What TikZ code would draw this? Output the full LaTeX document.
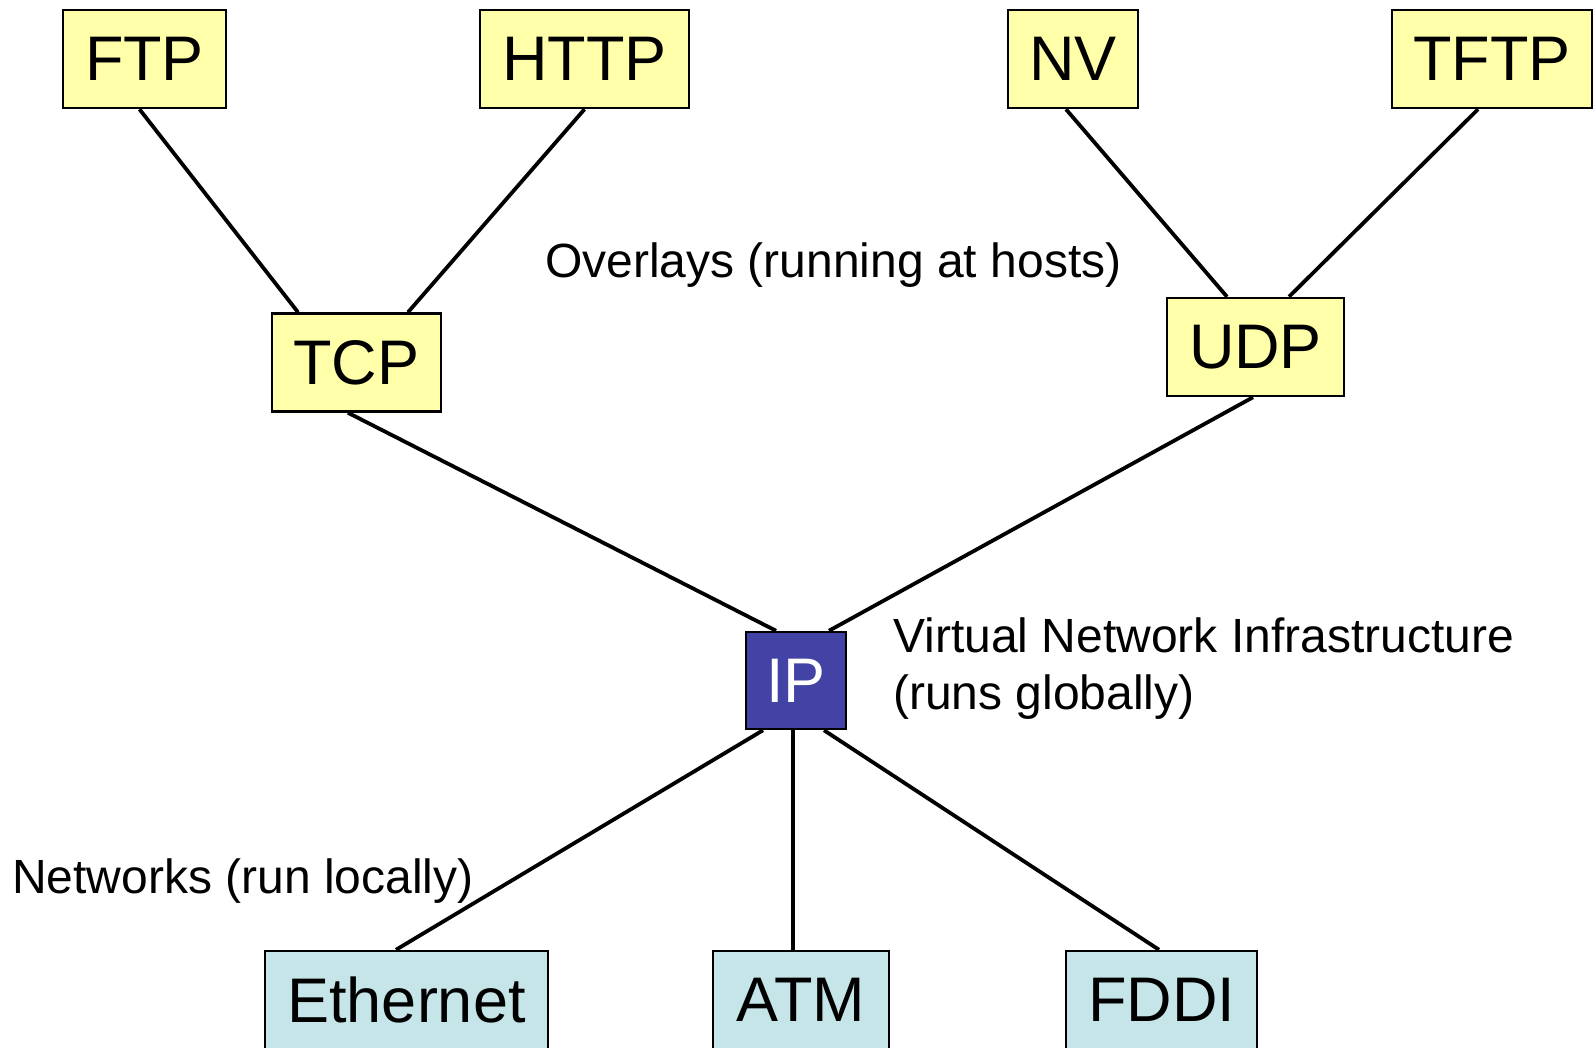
\documentclass[tikz,border=0pt]{standalone}
\usepackage{fontspec}
\setmainfont{Liberation Sans}
\definecolor{overlayfill}{RGB}{255,255,170}
\definecolor{ipfill}{RGB}{67,67,165}
\definecolor{netfill}{RGB}{198,229,232}
\tikzset{
  proto/.style={draw=black, line width=2.5pt, minimum height=98pt, inner sep=0pt,
    font=\fontsize{63}{70}\selectfont},
  overlay/.style={proto, fill=overlayfill},
  core/.style={proto, fill=ipfill, text=white},
  net/.style={proto, fill=netfill},
  link/.style={line width=3.8pt},
  note/.style={font=\fontsize{48}{57}\selectfont, inner sep=0pt, anchor=base west, align=left}
}
\begin{document}
\begin{tikzpicture}[x=1pt, y=-1pt]
\useasboundingbox (0,0) rectangle (1595,1047);

% application protocols
\node[overlay, minimum width=163pt] (ftp)  at (144.5,59) {FTP};
\node[overlay, minimum width=209pt] (http) at (584.5,59) {HTTP};
\node[overlay, minimum width=130pt] (nv)   at (1073,59) {NV};
\node[overlay, minimum width=200pt] (tftp) at (1492,59) {TFTP};

% transport protocols
\node[overlay, minimum width=169pt] (tcp) at (356.5,362.5) {TCP};
\node[overlay, minimum width=177pt] (udp) at (1255.5,347) {UDP};

% network layer
\node[core, minimum width=100pt, minimum height=97pt] (ip) at (796,680.5) {IP};

% link technologies (cut off by the page's lower edge)
\node[net, minimum width=283pt] (eth)  at (406.5,1000) {Ethernet};
\node[net, minimum width=176pt] (atm)  at (801,1000) {ATM};
\node[net, minimum width=191pt] (fddi) at (1161.5,1000) {FDDI};

% connectors
\draw[link] ([xshift=-5pt]ftp.south)   -- ([xshift=-58.5pt]tcp.north);
\draw[link] ([xshift=0pt]http.south)   -- ([xshift=51.5pt]tcp.north);
\draw[link] ([xshift=-7pt]nv.south)    -- ([xshift=-28.5pt]udp.north);
\draw[link] ([xshift=-14pt]tftp.south) -- ([xshift=33.5pt]udp.north);
\draw[link] ([xshift=-8.5pt]tcp.south) -- ([xshift=-20pt]ip.north);
\draw[link] ([xshift=-2.5pt]udp.south) -- ([xshift=33pt]ip.north);
\draw[link] ([xshift=-33pt]ip.south)   -- ([xshift=-10.5pt]eth.north);
\draw[link] ([xshift=-3pt]ip.south)    -- ([xshift=-8pt]atm.north);
\draw[link] ([xshift=28pt]ip.south)    -- ([xshift=-2.5pt]fddi.north);

% labels
\node[note] (overlays) at (545,277) {Overlays (running at hosts)};
\node[note] (vni) at (893,709) {Virtual Network Infrastructure\\(runs globally)};
\node[note] (nets) at (12,893) {Networks (run locally)};
\end{tikzpicture}
\end{document}
